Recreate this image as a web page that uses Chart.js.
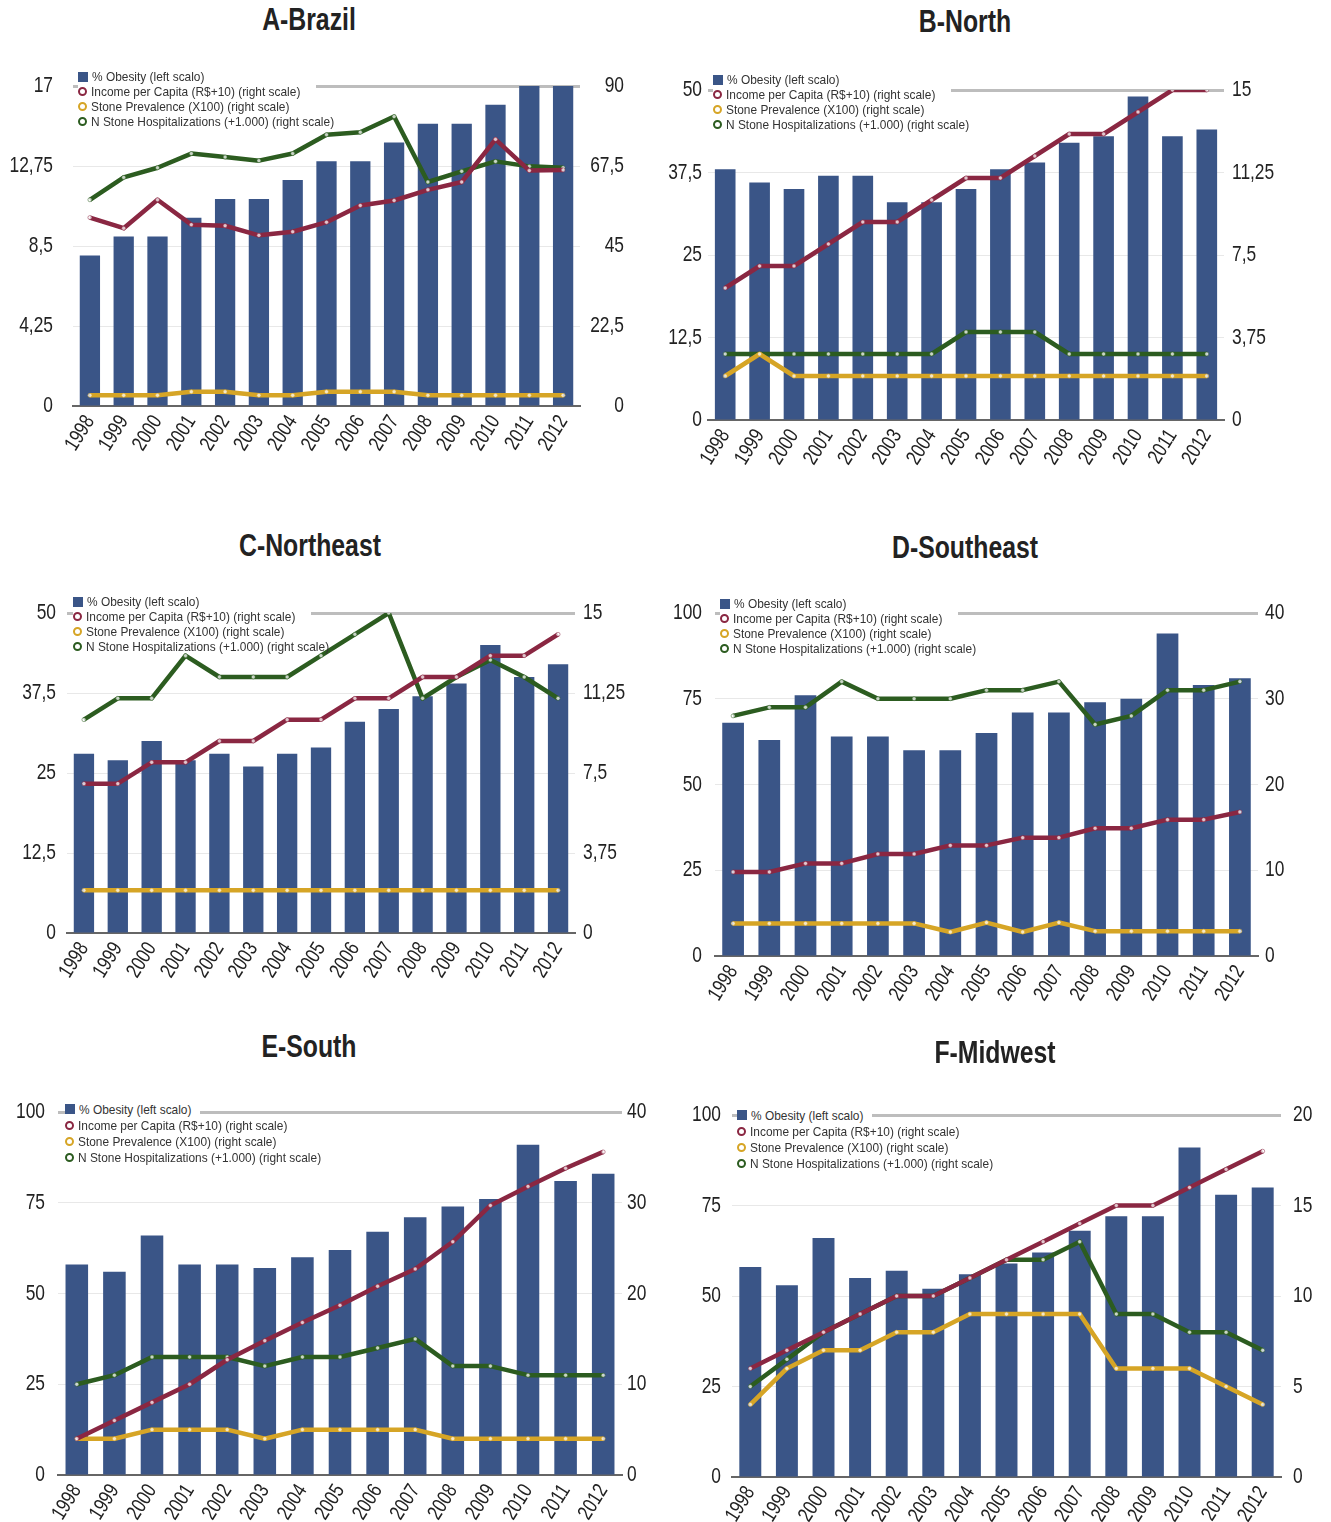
<!DOCTYPE html>
<html><head><meta charset="utf-8">
<script src="https://cdn.jsdelivr.net/npm/chart.js@4.4.0/dist/chart.umd.min.js"></script>
<style>
body{margin:0;width:1331px;height:1522px;background:#fff;position:relative;overflow:hidden;font-family:'Liberation Sans',Arial,sans-serif;}
.title{position:absolute;font-weight:bold;font-size:31px;color:#222;transform:translate(-50%,-50%) scaleX(0.8);white-space:nowrap;}
canvas{position:absolute;}
.legend{position:absolute;font-size:12.8px;color:#333;}
.legend .row{width:fit-content;display:flex;align-items:center;white-space:nowrap;}
.legend .row.bg{background:#fff;}
.legend .txt{display:inline-block;transform:scaleX(0.93);transform-origin:left center;}
.sq{display:inline-block;width:10px;height:10px;background:#3a5587;margin-right:4px;flex:none;}
.ci{display:inline-block;width:5px;height:5px;border:2px solid;border-radius:50%;background:#fff;margin-right:4px;flex:none;}
</style>
</head><body>
<script>
const years = ['1998','1999','2000','2001','2002','2003','2004','2005','2006','2007','2008','2009','2010','2011','2012'];
const titles = ['A-Brazil','B-North','C-Northeast','D-Southeast','E-South','F-Midwest'];
const seriesNames = ['% Obesity (left scalo)','Income per Capita (R$+10) (right scale)','Stone Prevalence (X100) (right scale)','N Stone Hospitalizations (+1.000) (right scale)'];

// A - Brazil
const obesityA = [8,9,9,10,11,11,12,13,13,14,15,15,16,17,17];
const incomeA  = [53,50,58,51,50.7,48,49,51.7,56.4,57.8,60.8,63,75,66.2,66.4];
const stoneA   = [3,3,3,4,4,3,3,4,4,4,3,3,3,3,3];
const hospA    = [58,64.3,67,71,70,69,71,76.3,77,81.4,63,66,68.8,67.4,67];
const leftTicksA  = ['0','4,25','8,5','12,75','17'];
const rightTicksA = ['0','22,5','45','67,5','90'];

// B - North
const obesityB = [38,36,35,37,37,33,33,35,38,39,42,43,49,43,44];
const incomeB  = [6,7,7,8,9,9,10,11,11,12,13,13,14,15,15];
const stoneB   = [2,3,2,2,2,2,2,2,2,2,2,2,2,2,2];
const hospB    = [3,3,3,3,3,3,3,4,4,4,3,3,3,3,3];
const leftTicksB  = ['0','12,5','25','37,5','50'];
const rightTicksB = ['0','3,75','7,5','11,25','15'];

// C - Northeast
const obesityC = [28,27,30,27,28,26,28,29,33,35,37,39,45,40,42];
const incomeC  = [7,7,8,8,9,9,10,10,11,11,12,12,13,13,14];
const stoneC   = [2,2,2,2,2,2,2,2,2,2,2,2,2,2,2];
const hospC    = [10,11,11,13,12,12,12,13,14,15,11,12,12.8,12,11];
const leftTicksC  = ['0','12,5','25','37,5','50'];
const rightTicksC = ['0','3,75','7,5','11,25','15'];

// D - Southeast
const obesityD = [68,63,76,64,64,60,60,65,71,71,74,75,94,79,81];
const incomeD  = [9.8,9.8,10.8,10.8,11.9,11.9,12.9,12.9,13.8,13.8,14.9,14.9,15.9,15.9,16.8];
const stoneD   = [3.8,3.8,3.8,3.8,3.8,3.8,2.8,3.9,2.8,3.9,2.9,2.9,2.9,2.9,2.9];
const hospD    = [28,29,29,32,30,30,30,31,31,32,27,28,31,31,32];
const leftTicksD  = ['0','25','50','75','100'];
const rightTicksD = ['0','10','20','30','40'];

// E - South
const obesityE = [58,56,66,58,58,57,60,62,67,71,74,76,91,81,83];
const incomeE  = [4,6,8,10,12.7,14.8,16.8,18.7,20.8,22.7,25.7,29.7,31.8,33.8,35.6];
const stoneE   = [4,4,5,5,5,4,5,5,5,5,4,4,4,4,4];
const hospE    = [10,11,13,13,13,12,13,13,14,15,12,12,11,11,11];
const leftTicksE  = ['0','25','50','75','100'];
const rightTicksE = ['0','10','20','30','40'];

// F - Midwest
const obesityF = [58,53,66,55,57,52,56,59,62,68,72,72,91,78,80];
const incomeF  = [6,7,8,9,10,10,11,12,13,14,15,15,16,17,18];
const stoneF   = [4,6,7,7,8,8,9,9,9,9,6,6,6,5,4];
const hospF    = [5,6.5,8,9,10,10,11,12,12,13,9,9,8,8,7];
const leftTicksF  = ['0','25','50','75','100'];
const rightTicksF = ['0','5','10','15','20'];

const FONT = "'Liberation Sans',Arial,sans-serif";
const COL = {bar:'#3a5587', income:'#8a2742', stone:'#d6a526', hosp:'#2c5c20'};
const TEXT_SX = 0.79; // horizontal condensing of the axis text

const panels = [
  {t:0, tx:309, ty:20,  plot:[73,86,580,406],    d:[obesityA,incomeA,stoneA,hospA], lt:leftTicksA, rt:rightTicksA, lpad:20, rpad:0, rAlign:'far', rw:44, lg:[78,77,14.7]},
  {t:1, tx:965, ty:22,  plot:[708,90,1224,420],  d:[obesityB,incomeB,stoneB,hospB], lt:leftTicksB, rt:rightTicksB, lpad:6,  rpad:8, rAlign:'near', rw:60, lg:[713,80,14.7]},
  {t:2, tx:310, ty:546, plot:[67,613,575,933],   d:[obesityC,incomeC,stoneC,hospC], lt:leftTicksC, rt:rightTicksC, lpad:11, rpad:8, rAlign:'near', rw:60, lg:[73,602,14.7]},
  {t:3, tx:965, ty:548, plot:[715,613,1258,956], d:[obesityD,incomeD,stoneD,hospD], lt:leftTicksD, rt:rightTicksD, lpad:13, rpad:7, rAlign:'near', rw:60, lg:[720,604,14.7]},
  {t:4, tx:309, ty:1047,plot:[58,1112,622,1475], d:[obesityE,incomeE,stoneE,hospE], lt:leftTicksE, rt:rightTicksE, lpad:13, rpad:5, rAlign:'near', rw:60, lg:[65,1109,16]},
  {t:5, tx:995, ty:1053,plot:[732,1115,1281,1477],d:[obesityF,incomeF,stoneF,hospF], lt:leftTicksF, rt:rightTicksF, lpad:11, rpad:12,rAlign:'near', rw:50, lg:[737,1115,16]}
];

function num(s){return parseFloat(s.replace(',','.'));}

panels.forEach(p=>{
  const LW=75, RW=p.rw, TOP=45, XH=75;
  const [l,t,r,b]=p.plot;
  const w=LW+(r-l)+RW, h=TOP+(b-t)+XH;
  const cv=document.createElement('canvas');
  cv.width=w; cv.height=h;
  cv.style.left=(l-LW)+'px'; cv.style.top=(t-TOP)+'px';
  cv.style.width=w+'px'; cv.style.height=h+'px';
  document.body.appendChild(cv);
  // condensed text: scale each glyph run horizontally around its anchor
  const ctx=cv.getContext('2d');
  const origFill=ctx.fillText.bind(ctx);
  ctx.fillText=function(text,x,y){ this.save(); this.translate(x,y); this.scale(TEXT_SX,1); origFill(text,0,0); this.restore(); };

  const ttl=document.createElement('div');
  ttl.className='title'; ttl.textContent=titles[p.t];
  ttl.style.left=p.tx+'px'; ttl.style.top=p.ty+'px';
  document.body.appendChild(ttl);

  const ltv=p.lt.map(num), rtv=p.rt.map(num);
  const lineDs=(label,data,color,order)=>({type:'line',label,data,yAxisID:'yR',borderColor:color,borderWidth:4.5,
      pointRadius:2,pointBackgroundColor:'rgba(255,255,255,0.75)',pointBorderColor:color,pointBorderWidth:0.5,
      tension:0,order,borderJoinStyle:'round'});
  new Chart(cv,{
    type:'bar',
    data:{labels:years,datasets:[
      {type:'bar',label:seriesNames[0],data:p.d[0],yAxisID:'yL',backgroundColor:COL.bar,barPercentage:0.6,categoryPercentage:1,order:10},
      lineDs(seriesNames[3],p.d[3],COL.hosp,3),
      lineDs(seriesNames[2],p.d[2],COL.stone,2),
      lineDs(seriesNames[1],p.d[1],COL.income,1)
    ]},
    options:{
      responsive:false,animation:false,devicePixelRatio:1,
      layout:{padding:{top:TOP,left:0,right:0,bottom:0}},
      plugins:{legend:{display:false},tooltip:{enabled:false}},
      scales:{
        x:{grid:{display:false,drawTicks:false},border:{display:true,color:'#666',width:2},
           ticks:{maxRotation:58,minRotation:58,autoSkip:false,font:{size:21,family:FONT},color:'#222',padding:5},
           afterFit:s=>{s.height=XH;}},
        yL:{position:'left',min:0,max:ltv[ltv.length-1],
           afterBuildTicks:s=>{s.ticks=ltv.map(v=>({value:v}));},
           ticks:{callback:(v,i)=>p.lt[i],padding:p.lpad,font:{size:22,family:FONT},color:'#222'},
           grid:{drawTicks:false,color:c=>c.index===ltv.length-1?'#bdbdbd':'rgba(0,0,0,0.09)',lineWidth:c=>c.index===ltv.length-1?3:1},
           border:{display:false},afterFit:s=>{s.width=LW;}},
        yR:{position:'right',min:0,max:rtv[rtv.length-1],
           afterBuildTicks:s=>{s.ticks=rtv.map(v=>({value:v}));},
           ticks:{callback:(v,i)=>p.rt[i],padding:p.rpad,crossAlign:p.rAlign,font:{size:22,family:FONT},color:'#222'},
           grid:{display:false,drawTicks:false},border:{display:false},afterFit:s=>{s.width=RW;}}
      }
    }
  });

  const lg=document.createElement('div');
  lg.className='legend';
  lg.style.left=p.lg[0]+'px'; lg.style.top=(p.lg[1]-p.lg[2]/2)+'px';
  const cols=[null,COL.income,COL.stone,COL.hosp];
  seriesNames.forEach((n,i)=>{
    const row=document.createElement('div');
    row.className='row'+(i<2?' bg':''); row.style.height=p.lg[2]+'px';
    const m=document.createElement('span');
    if(i===0){m.className='sq';} else {m.className='ci'; m.style.borderColor=cols[i];}
    row.appendChild(m);
    const tx=document.createElement('span'); tx.className='txt'; tx.textContent=n; row.appendChild(tx);
    lg.appendChild(row);
  });
  document.body.appendChild(lg);
});
</script>
</body></html>
